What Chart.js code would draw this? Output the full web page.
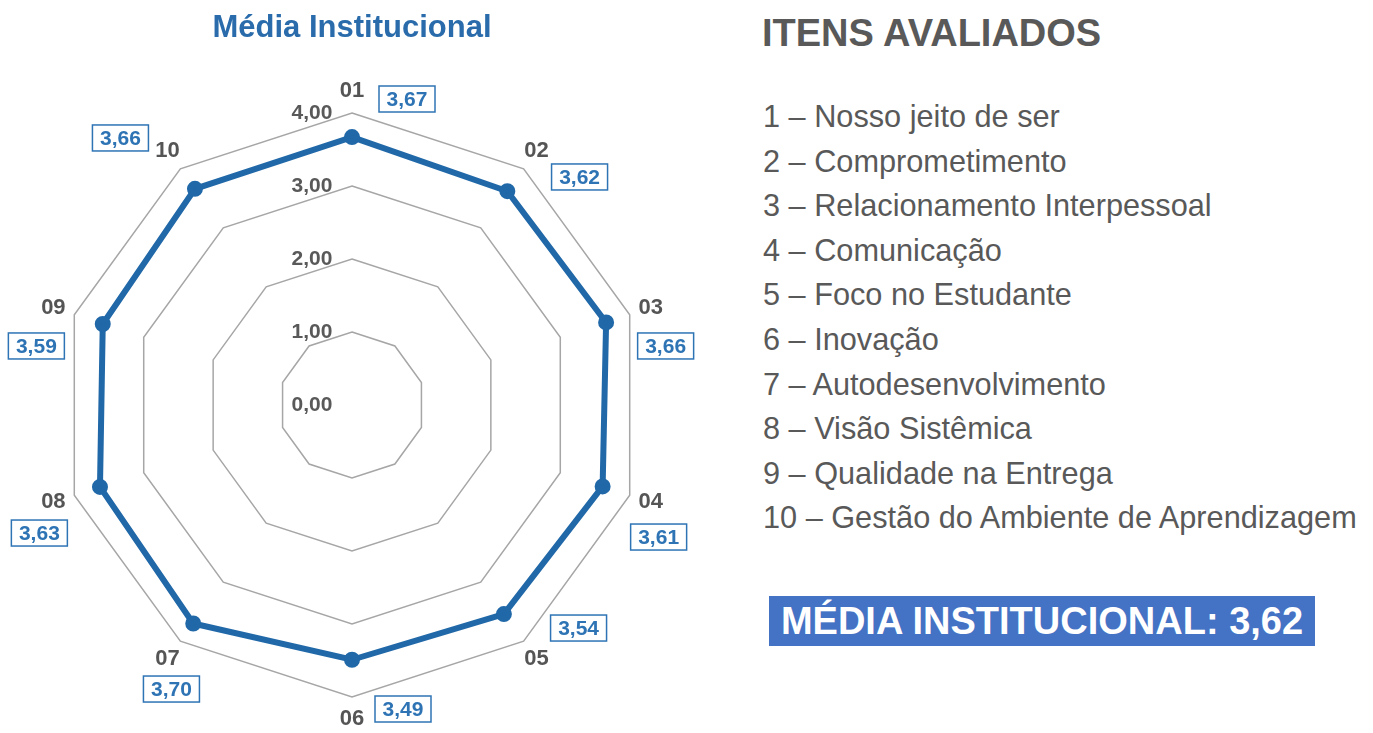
<!DOCTYPE html>
<html lang="pt-BR">
<head>
    <meta charset="UTF-8">
    <title>Média Institucional</title>
    <script src="https://cdn.jsdelivr.net/npm/chart.js"></script>
    <style>
        body { margin: 0; background: #fff; font-family: "Liberation Sans", Arial, Helvetica, sans-serif; }
        .page { position: relative; width: 1373px; height: 733px; overflow: hidden; }
        #radar { position: absolute; left: 0; top: 0; }
        .title { position: absolute; left: 152px; width: 400px; top: 7px; text-align: center; color: #2a6cab; font-weight: bold; font-size: 31px; line-height: 40px; }
        .heading { position: absolute; left: 762px; top: 11px; color: #595959; font-weight: bold; font-size: 38px; line-height: 44px; }
        .items { position: absolute; left: 763px; top: 95px; margin: 0; padding: 0; list-style: none; color: #595959; font-size: 30.7px; line-height: 44.6px; white-space: nowrap; }
        .media { position: absolute; left: 769px; top: 596px; width: 546px; height: 50px; background: #4472c4; color: #fff; font-weight: bold; font-size: 38px; line-height: 50px; text-align: center; }
    </style>
</head>
<body>
<div class="page">
    <canvas id="radar" width="700" height="733"></canvas>
    <div class="title">Média Institucional</div>
    <div class="heading">ITENS AVALIADOS</div>
    <ul class="items" id="items"></ul>
    <div class="media" id="media"></div>
</div>

<script>
    // chart data
    const axisLabels = ['01', '02', '03', '04', '05', '06', '07', '08', '09', '10'];
    const scores = [3.67, 3.62, 3.66, 3.61, 3.54, 3.49, 3.70, 3.63, 3.59, 3.66];
    const tickValues = [0, 1, 2, 3, 4];
    const itemNames = [
        'Nosso jeito de ser',
        'Comprometimento',
        'Relacionamento Interpessoal',
        'Comunicação',
        'Foco no Estudante',
        'Inovação',
        'Autodesenvolvimento',
        'Visão Sistêmica',
        'Qualidade na Entrega',
        'Gestão do Ambiente de Aprendizagem'
    ];
    const overallAverage = 3.62;

    const fmt = v => v.toFixed(2).replace('.', ',');

    // right side text
    const list = document.getElementById('items');
    itemNames.forEach((name, i) => {
        const li = document.createElement('li');
        li.textContent = (i + 1) + ' – ' + name;
        list.appendChild(li);
    });
    document.getElementById('media').textContent = 'MÉDIA INSTITUCIONAL: ' + fmt(overallAverage);

    // where each value box sits relative to its axis label
    const boxOffsets = [
        [55, 8], [43, 26], [15, 38], [8, 35], [42, -31],
        [51, -10], [4, 30], [-14, 31], [-17, 38], [-47, -13]
    ];

    const labelFont = 'bold 21px "Liberation Sans", Arial, sans-serif';

    const labelsPlugin = {
        id: 'radarLabels',
        afterDraw(chart) {
            const ctx = chart.ctx;
            const scale = chart.scales.r;
            ctx.save();
            ctx.textAlign = 'center';
            ctx.textBaseline = 'middle';

            // tick labels, left of the vertical axis
            ctx.font = labelFont;
            ctx.fillStyle = '#595959';
            tickValues.forEach(v => {
                const d = scale.getDistanceFromCenterForValue(v);
                ctx.fillText(fmt(v), scale.xCenter - 40, scale.yCenter - d);
            });

            axisLabels.forEach((lab, i) => {
                const p = scale.getPointPosition(i, scale.drawingArea + 22);
                ctx.font = 'bold 22px "Liberation Sans", Arial, sans-serif';
                ctx.fillStyle = '#555555';
                ctx.fillText(lab, p.x, p.y);

                const bx = p.x + boxOffsets[i][0];
                const by = p.y + boxOffsets[i][1];
                const w = 56, h = 26;
                ctx.fillStyle = '#fff';
                ctx.fillRect(bx - w / 2, by - h / 2, w, h);
                ctx.strokeStyle = '#2e74b5';
                ctx.lineWidth = 1.5;
                ctx.strokeRect(bx - w / 2, by - h / 2, w, h);
                ctx.fillStyle = '#2e74b5';
                ctx.font = labelFont;
                ctx.fillText(fmt(scores[i]), bx, by + 1);
            });
            ctx.restore();
        }
    };

    new Chart(document.getElementById('radar'), {
        type: 'radar',
        data: {
            labels: axisLabels,
            datasets: [{
                data: scores,
                borderColor: '#2068a8',
                backgroundColor: '#2068a8',
                pointBackgroundColor: '#2068a8',
                pointBorderColor: '#2068a8',
                borderWidth: 6,
                pointRadius: 5,
                fill: false
            }]
        },
        options: {
            responsive: false,
            animation: false,
            layout: { padding: { left: 60, right: 56, top: 113, bottom: 36 } },
            plugins: {
                legend: { display: false },
                tooltip: { enabled: false }
            },
            scales: {
                r: {
                    min: 0,
                    max: 4,
                    ticks: { stepSize: 1, display: false },
                    grid: { color: '#a6a6a6', lineWidth: 1.5 },
                    angleLines: { display: false },
                    pointLabels: { display: false }
                }
            }
        },
        plugins: [labelsPlugin]
    });
</script>
</body>
</html>
